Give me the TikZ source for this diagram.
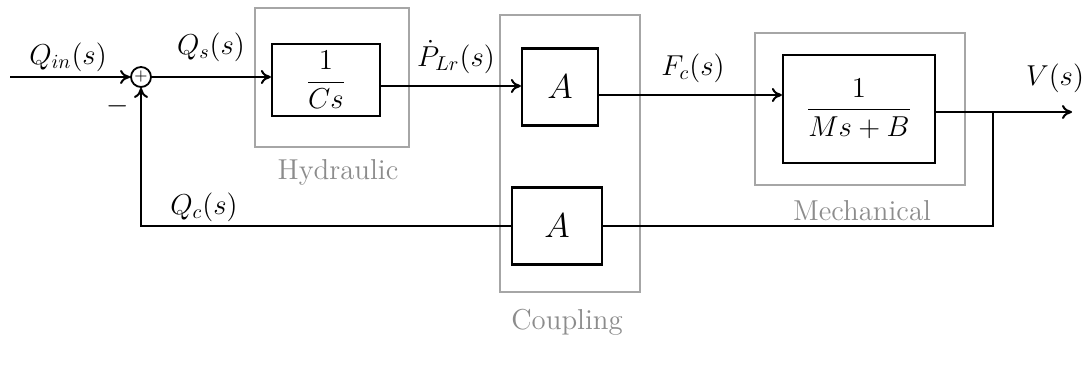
\documentclass[tikz,border=0pt]{standalone}
\usetikzlibrary{arrows.meta}
\begin{document}
\begin{tikzpicture}[x=0.5pt,y=-0.5pt,
  blk/.style={draw,line width=1.1pt,inner sep=0pt},
  grp/.style={draw=black!35,line width=0.6pt,inner sep=0pt},
  grplbl/.style={text=black!45,font=\Large},
  sig/.style={line width=1pt,-{To[length=5pt,width=7pt]}},
  wire/.style={line width=1pt},
  lbl/.style={font=\Large,inner sep=1pt}]
\useasboundingbox[fill=white] (0,0) rectangle (1088,374);
% group boxes
\node[grp,minimum width=77pt,minimum height=69.5pt] (hydg) at (332,77.5) {};
\node[grp,minimum width=70pt,minimum height=138.5pt] (coug) at (570,153.5) {};
\node[grp,minimum width=105pt,minimum height=76pt] (mecg) at (860,109) {};
\node[grplbl] (hydl) at (338,172) {Hydraulic};
\node[grplbl] (coul) at (567,322) {Coupling};
\node[grplbl] (mecl) at (862,211) {Mechanical};
% blocks
\node[draw,circle,line width=0.9pt,minimum size=10pt,inner sep=0pt,font=\footnotesize] (sum) at (141,77) {$+$};
\node[blk,minimum width=54pt,minimum height=36pt,font=\Large] (cs) at (326,80) {$\displaystyle\frac{1}{Cs}$};
\node[blk,minimum width=38pt,minimum height=38.5pt,font=\LARGE] (at) at (560,87) {$A$};
\node[blk,minimum width=45pt,minimum height=38.5pt,font=\LARGE] (ab) at (557,226) {$A$};
\node[blk,minimum width=76pt,minimum height=54pt,font=\Large] (mech) at (859,109) {$\displaystyle\frac{1}{Ms+B}$};
% input / output coordinates
\coordinate (in) at (10,77);
\coordinate (out) at (1072,112);
\coordinate (br) at (993,112);
% connectors
\draw[sig] (in) -- (sum.west);
\draw[sig] (sum.east) -- (sum.east -| cs.west);
\draw[sig] ([yshift=-3pt]cs.east) -- ([yshift=-3pt]cs.east -| at.west);
\draw[sig] ([yshift=-4pt]at.east) -- ([yshift=-4pt]at.east -| mech.west);
\draw[sig] ([yshift=-1.5pt]mech.east) -- (out);
\draw[wire] (br) |- (ab.east);
\draw[sig] (ab.west) -| (sum.south);
% labels
\node[lbl] (lqin) at (68,57) {$Q_{in}(s)$};
\node[lbl] (lqs) at (211,47) {$Q_s(s)$};
\node[lbl] (lminus) at (118,106) {$-$};
\node[lbl] (lp) at (456,57) {$\dot{P}_{Lr}(s)$};
\node[lbl] (lf) at (693,68) {$F_c(s)$};
\node[lbl] (lv) at (1055,78) {$V(s)$};
\node[lbl] (lqc) at (204,207) {$Q_c(s)$};
\end{tikzpicture}
\end{document}
